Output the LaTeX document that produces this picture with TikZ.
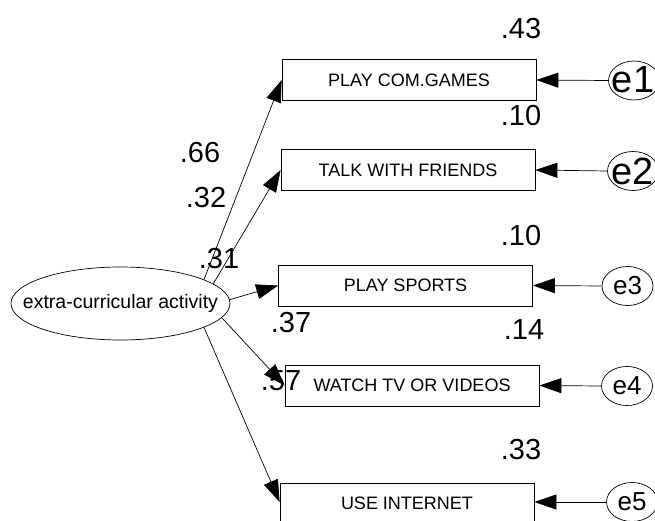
\documentclass[tikz,border=0pt]{standalone}
\usepackage{fontspec}
\setmainfont{Liberation Sans}
\usetikzlibrary{arrows.meta,shapes.geometric}
\begin{document}
\begin{tikzpicture}[x=1pt,y=-1pt,
  obs/.style={draw, rectangle, line width=0.7pt, minimum width=254pt, minimum height=41pt,
    inner sep=0pt, font=\fontsize{18}{20}\selectfont},
  latent/.style={draw, ellipse, line width=0.7pt, minimum width=219pt, minimum height=73pt, inner sep=0pt},
  err/.style={draw, ellipse, line width=0.7pt, minimum width=51pt, minimum height=39pt, inner sep=0pt},
  regpath/.style={-{Triangle[length=22pt,width=15pt]}, line width=0.7pt},
  coef/.style={inner sep=0pt, font=\fontsize{29}{30}\selectfont},
  bigname/.style={inner sep=0pt, font=\fontsize{38}{40}\selectfont},
  smallname/.style={inner sep=0pt, font=\fontsize{26}{28}\selectfont}]
\useasboundingbox (0,0) rectangle (655,521);
\clip (0,0) rectangle (655,520.5);

% latent factor
\node[latent] (lat) at (120.5,303.5) {};
\node[inner sep=0pt, font=\fontsize{19.5}{21}\selectfont] at (lat) {extra-curricular activity};

% observed indicators
\node[obs] (b1) at (409,80) {PLAY COM.GAMES};
\node[obs] (b2) at (408,170) {TALK WITH FRIENDS};
\node[obs] (b3) at (405.5,285.5) {PLAY SPORTS};
\node[obs] (b4) at (412,385.5) {WATCH TV OR VIDEOS};
\node[obs, minimum height=48pt] (b5) at (407,507) {};
\node[inner sep=0pt, font=\fontsize{18}{20}\selectfont] at (407,503.5) {USE INTERNET};

% error terms
\node[err] (e1) at (634,80.5) {};
\node[bigname] at (633,80) {e1};
\node[err] (e2) at (633,171) {};
\node[bigname] at (632.5,171) {e2};
\node[err] (e3) at (627.5,286) {};
\node[smallname] at (627.5,286) {e3};
\node[err] (e4) at (627,386) {};
\node[smallname] at (627,386) {e4};
\node[err] (e5) at (632,502) {};
\node[smallname] at (632,502) {e5};

% loadings
\draw[regpath] (lat.16.5) -- (b1.west);
\draw[regpath] (lat.12.5) -- (b2.west);
\draw[regpath] (lat.2.4) -- (b3.west);
\draw[regpath] (lat.-8) -- (b4.west);
\draw[regpath] (lat.-16) -- (b5.west |- e5.west);

% error paths
\draw[regpath] (e1.west) -- (b1.east);
\draw[regpath] (e2.west) -- (b2.east);
\draw[regpath] (e3.west) -- (b3.east);
\draw[regpath] (e4.west) -- (b4.east);
\draw[regpath] (e5.west) -- (b5.east |- e5.west);

% estimates
\node[coef] (r1) at (521,28.5) {.43};
\node[coef] (r2) at (521,116) {.10};
\node[coef] (r3) at (521,236) {.10};
\node[coef] (r4) at (524,330) {.14};
\node[coef] (r5) at (521,450) {.33};
\node[coef] (l1) at (200,153) {.66};
\node[coef] (l2) at (206,198) {.32};
\node[coef] (l3) at (219,259) {.31};
\node[coef] (l4) at (291,323) {.37};
\node[coef] (l5) at (281,381) {.57};
\end{tikzpicture}
\end{document}
